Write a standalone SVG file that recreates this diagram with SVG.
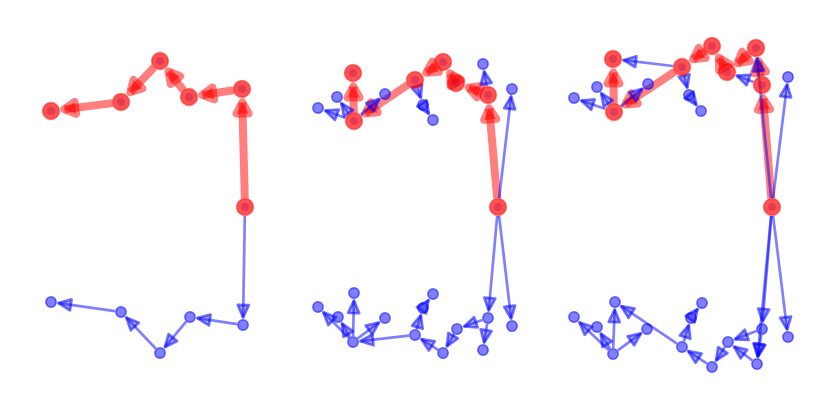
<svg xmlns="http://www.w3.org/2000/svg" width="830" height="415" viewBox="0 0 830 415">
<style>
.re{stroke:#f00;stroke-opacity:.5;stroke-width:8;fill:none;marker-end:url(#rh)}
.be{stroke:#00f;stroke-opacity:.5;stroke-width:2.7;fill:none;marker-end:url(#bh)}
.rhd{fill:#f00;fill-opacity:.5;stroke:#f00;stroke-opacity:.5;stroke-width:8;stroke-linejoin:round}
.bhd{fill:#00f;fill-opacity:.3;stroke:#00f;stroke-opacity:.55;stroke-width:2.7;stroke-linejoin:round}
.bn{fill:#00f;fill-opacity:.5;stroke:#00f;stroke-opacity:.55;stroke-width:1.5}
.bi{fill:#00f;fill-opacity:.3}
.rn{fill:#f00;fill-opacity:.68;stroke:#f00;stroke-opacity:.4;stroke-width:1.5}
</style>
<defs>
<marker id="rh" markerUnits="userSpaceOnUse" orient="auto" markerWidth="1" markerHeight="1" overflow="visible"><path class="rhd" d="M0,0 L-11,-6 L-11,6 Z"/></marker>
<marker id="bh" markerUnits="userSpaceOnUse" orient="auto" markerWidth="1" markerHeight="1" overflow="visible"><path class="bhd" d="M0,0 L-12.5,-5.5 L-12.5,5.5 Z"/></marker>
</defs>
<rect width="830" height="415" fill="#fff"/>
<g id="connectors">
<g id="red-edges">
<line class="re" x1="244.8" y1="198.5" x2="242.3" y2="102.5"/>
<line class="re" x1="233.6" y1="90.3" x2="202.4" y2="95"/>
<line class="re" x1="183.7" y1="90.4" x2="168.5" y2="71.5"/>
<line class="re" x1="154.1" y1="67.2" x2="130.3" y2="92.2"/>
<line class="re" x1="112.6" y1="103.1" x2="64.4" y2="109.3"/>
<line class="re" x1="497.2" y1="198.5" x2="489.2" y2="108.4"/>
<line class="re" x1="480" y1="92" x2="468.6" y2="87.7"/>
<line class="re" x1="451.5" y1="75.8" x2="450.1" y2="73.5"/>
<line class="re" x1="435.9" y1="66.6" x2="426.4" y2="72.7"/>
<line class="re" x1="407.9" y1="84.7" x2="365.2" y2="113.5"/>
<line class="re" x1="353.8" y1="112.5" x2="353.3" y2="86.5"/>
<line class="re" x1="771.3" y1="198.5" x2="763.1" y2="98.5"/>
<line class="re" x1="760.6" y1="76.6" x2="758.2" y2="61.3"/>
<line class="re" x1="749.4" y1="53.4" x2="737.4" y2="63.4"/>
<line class="re" x1="722.8" y1="64.6" x2="718.8" y2="57.7"/>
<line class="re" x1="705" y1="50.9" x2="693.1" y2="59.3"/>
<line class="re" x1="674.9" y1="71.7" x2="625.3" y2="104.5"/>
<line class="re" x1="613.8" y1="103.5" x2="613.3" y2="72.5"/>
</g>
<g id="blue-edges">
<line class="be" x1="244.8" y1="216" x2="243.1" y2="317.5"/>
<line class="be" x1="237.1" y1="324.1" x2="197.4" y2="318.1"/>
<line class="be" x1="186.2" y1="321.6" x2="164.8" y2="347.2"/>
<line class="be" x1="155.9" y1="348.7" x2="126.2" y2="317.4"/>
<line class="be" x1="115.1" y1="311.2" x2="58.4" y2="303.1"/>
<line class="be" x1="345.5" y1="117.9" x2="325.1" y2="110.5"/>
<line class="be" x1="348.8" y1="113.7" x2="341.3" y2="103.1"/>
<line class="be" x1="360.8" y1="115.1" x2="379.3" y2="98.9"/>
<line class="be" x1="417.7" y1="88.6" x2="420.7" y2="97.8"/>
<line class="be" x1="426.3" y1="110" x2="428.8" y2="113.8"/>
<line class="be" x1="486.6" y1="86.1" x2="484.2" y2="71.4"/>
<line class="be" x1="499.1" y1="198.1" x2="511.1" y2="96.4"/>
<line class="be" x1="497.2" y1="216" x2="488.7" y2="310.5"/>
<line class="be" x1="499.1" y1="215.9" x2="511.1" y2="318.6"/>
<line class="be" x1="482.3" y1="320" x2="464.1" y2="326.5"/>
<line class="be" x1="487.1" y1="323.9" x2="484.2" y2="342.6"/>
<line class="be" x1="454" y1="334.2" x2="446.8" y2="346.5"/>
<line class="be" x1="438" y1="349.8" x2="421.3" y2="339.1"/>
<line class="be" x1="416.7" y1="329.3" x2="420.9" y2="315.2"/>
<line class="be" x1="426.5" y1="303.1" x2="428.6" y2="300.1"/>
<line class="be" x1="409" y1="335.7" x2="360.5" y2="341.2"/>
<line class="be" x1="353.1" y1="336" x2="353.9" y2="300.5"/>
<line class="be" x1="357.8" y1="338.4" x2="379" y2="322.5"/>
<line class="be" x1="349.9" y1="336.9" x2="341.9" y2="323.4"/>
<line class="be" x1="348.8" y1="337.8" x2="323.3" y2="312.3"/>
<line class="be" x1="605.5" y1="109" x2="581.1" y2="100.5"/>
<line class="be" x1="608.9" y1="104.5" x2="601.2" y2="93.2"/>
<line class="be" x1="620.9" y1="106.3" x2="642.2" y2="88.8"/>
<line class="be" x1="673.1" y1="66" x2="623.4" y2="60.2"/>
<line class="be" x1="684.2" y1="75.7" x2="687.2" y2="87.7"/>
<line class="be" x1="692.6" y1="99.8" x2="696.5" y2="105"/>
<line class="be" x1="753.6" y1="81.9" x2="736.8" y2="75.7"/>
<line class="be" x1="771.1" y1="198" x2="757.1" y2="58.4"/>
<line class="be" x1="773.1" y1="198.1" x2="787.1" y2="84.4"/>
<line class="be" x1="771.3" y1="216" x2="762.6" y2="321.5"/>
<line class="be" x1="771.1" y1="216" x2="757.7" y2="356.5"/>
<line class="be" x1="773.1" y1="215.9" x2="787.1" y2="329.6"/>
<line class="be" x1="761.2" y1="334.9" x2="758.1" y2="356.6"/>
<line class="be" x1="756.4" y1="331.1" x2="735" y2="339.3"/>
<line class="be" x1="752.2" y1="360.4" x2="734" y2="346.5"/>
<line class="be" x1="724.8" y1="347.1" x2="716" y2="360.7"/>
<line class="be" x1="707" y1="363.7" x2="688.2" y2="351.2"/>
<line class="be" x1="683.8" y1="341.3" x2="688.8" y2="325.2"/>
<line class="be" x1="694.5" y1="313.2" x2="697.6" y2="309"/>
<line class="be" x1="677" y1="343.7" x2="621.2" y2="306.2"/>
<line class="be" x1="613.2" y1="348" x2="614.7" y2="309.5"/>
<line class="be" x1="608.6" y1="349.9" x2="579.4" y2="322.2"/>
<line class="be" x1="610" y1="348.8" x2="600.8" y2="333.5"/>
<line class="be" x1="617.8" y1="350.4" x2="641" y2="333.4"/>
</g>
</g>
<g id="blue-nodes">
<g id="n1-a2"><circle class="bn" cx="243" cy="325" r="5.2"/></g>
<g id="n1-b2"><circle class="bn" cx="190" cy="317" r="5.2"/></g>
<g id="n1-c2"><circle class="bn" cx="160" cy="353" r="5.2"/></g>
<g id="n1-d2"><circle class="bn" cx="121" cy="312" r="5.2"/></g>
<g id="n1-e2"><circle class="bn" cx="51" cy="302" r="5.2"/></g>
<g id="n2-p1"><circle class="bn" cx="318" cy="108" r="5.2"/></g>
<g id="n2-p2"><circle class="bn" cx="337" cy="97" r="5.2"/></g>
<g id="n2-p3"><circle class="bn" cx="385" cy="94" r="5.2"/></g>
<g id="n2-p4"><circle class="bn" cx="423" cy="105" r="5.2"/></g>
<g id="n2-p5"><circle class="bn" cx="433" cy="120" r="5.2"/></g>
<g id="n2-p6"><circle class="bn" cx="483" cy="64" r="5.2"/></g>
<g id="n2-p7"><circle class="bn" cx="512" cy="89" r="5.2"/></g>
<g id="n2-F2"><circle class="bn" cx="488" cy="318" r="5.2"/></g>
<g id="n2-E2"><circle class="bn" cx="457" cy="329" r="5.2"/></g>
<g id="n2-D2"><circle class="bn" cx="443" cy="353" r="5.2"/></g>
<g id="n2-C2"><circle class="bn" cx="415" cy="335" r="5.2"/></g>
<g id="n2-B2"><circle class="bn" cx="353" cy="342" r="5.2"/></g>
<g id="n2-A2"><circle class="bn" cx="354" cy="293" r="5.2"/></g>
<g id="n2-p1b"><circle class="bn" cx="318" cy="307" r="5.2"/></g>
<g id="n2-p2b"><circle class="bn" cx="338" cy="317" r="5.2"/></g>
<g id="n2-p3b"><circle class="bn" cx="385" cy="318" r="5.2"/></g>
<g id="n2-p4b"><circle class="bn" cx="423" cy="308" r="5.2"/></g>
<g id="n2-p5b"><circle class="bn" cx="433" cy="294" r="5.2"/></g>
<g id="n2-p6b"><circle class="bn" cx="483" cy="350" r="5.2"/></g>
<g id="n2-p7b"><circle class="bn" cx="512" cy="326" r="5.2"/></g>
<g id="n3-q1"><circle class="bn" cx="574" cy="98" r="5.2"/></g>
<g id="n3-q2"><circle class="bn" cx="597" cy="87" r="5.2"/></g>
<g id="n3-q3"><circle class="bn" cx="648" cy="84" r="5.2"/></g>
<g id="n3-q4"><circle class="bn" cx="689" cy="95" r="5.2"/></g>
<g id="n3-q5"><circle class="bn" cx="701" cy="111" r="5.2"/></g>
<g id="n3-q6"><circle class="bn" cx="788" cy="77" r="5.2"/></g>
<g id="n3-H2"><circle class="bn" cx="762" cy="329" r="5.2"/></g>
<g id="n3-G2"><circle class="bn" cx="757" cy="364" r="5.2"/></g>
<g id="n3-E2"><circle class="bn" cx="728" cy="342" r="5.2"/></g>
<g id="n3-D2"><circle class="bn" cx="712" cy="367" r="5.2"/></g>
<g id="n3-C2"><circle class="bn" cx="682" cy="347" r="5.2"/></g>
<g id="n3-q4b"><circle class="bn" cx="691" cy="318" r="5.2"/></g>
<g id="n3-q5b"><circle class="bn" cx="702" cy="303" r="5.2"/></g>
<g id="n3-A2"><circle class="bn" cx="615" cy="302" r="5.2"/></g>
<g id="n3-B2"><circle class="bn" cx="613" cy="354" r="5.2"/></g>
<g id="n3-q1b"><circle class="bn" cx="574" cy="317" r="5.2"/></g>
<g id="n3-q2b"><circle class="bn" cx="597" cy="327" r="5.2"/></g>
<g id="n3-q3b"><circle class="bn" cx="647" cy="329" r="5.2"/></g>
<g id="n3-q6b"><circle class="bn" cx="788" cy="337" r="5.2"/></g>
</g>
<g id="red-nodes">
<g id="n1-root"><circle class="bi" cx="245" cy="207" r="4"/><circle class="rn" cx="245" cy="207" r="8.5"/></g>
<g id="n1-a"><circle class="bi" cx="242" cy="89" r="4"/><circle class="rn" cx="242" cy="89" r="8.5"/></g>
<g id="n1-b"><circle class="bi" cx="189" cy="97" r="4"/><circle class="rn" cx="189" cy="97" r="8.5"/></g>
<g id="n1-c"><circle class="bi" cx="160" cy="61" r="4"/><circle class="rn" cx="160" cy="61" r="8.5"/></g>
<g id="n1-d"><circle class="bi" cx="121" cy="102" r="4"/><circle class="rn" cx="121" cy="102" r="8.5"/></g>
<g id="n1-e"><circle class="bi" cx="51" cy="111" r="4"/><circle class="rn" cx="51" cy="111" r="8.5"/></g>
<g id="n2-root"><circle class="bi" cx="498" cy="207" r="4"/><circle class="rn" cx="498" cy="207" r="8.5"/></g>
<g id="n2-F"><circle class="bi" cx="488" cy="95" r="4"/><circle class="rn" cx="488" cy="95" r="8.5"/></g>
<g id="n2-E"><circle class="bi" cx="456" cy="83" r="4"/><circle class="rn" cx="456" cy="83" r="8.5"/></g>
<g id="n2-D"><circle class="bi" cx="443" cy="62" r="4"/><circle class="rn" cx="443" cy="62" r="8.5"/></g>
<g id="n2-C"><circle class="bi" cx="415" cy="80" r="4"/><circle class="rn" cx="415" cy="80" r="8.5"/></g>
<g id="n2-B"><circle class="bi" cx="354" cy="121" r="4"/><circle class="rn" cx="354" cy="121" r="8.5"/></g>
<g id="n2-A"><circle class="bi" cx="353" cy="73" r="4"/><circle class="rn" cx="353" cy="73" r="8.5"/></g>
<g id="n3-root"><circle class="bi" cx="772" cy="207" r="4"/><circle class="rn" cx="772" cy="207" r="8.5"/></g>
<g id="n3-H"><circle class="bi" cx="762" cy="85" r="4"/><circle class="rn" cx="762" cy="85" r="8.5"/></g>
<g id="n3-G"><circle class="bi" cx="756" cy="48" r="4"/><circle class="rn" cx="756" cy="48" r="8.5"/></g>
<g id="n3-E"><circle class="bi" cx="727" cy="72" r="4"/><circle class="rn" cx="727" cy="72" r="8.5"/></g>
<g id="n3-D"><circle class="bi" cx="712" cy="46" r="4"/><circle class="rn" cx="712" cy="46" r="8.5"/></g>
<g id="n3-C"><circle class="bi" cx="682" cy="67" r="4"/><circle class="rn" cx="682" cy="67" r="8.5"/></g>
<g id="n3-B"><circle class="bi" cx="614" cy="112" r="4"/><circle class="rn" cx="614" cy="112" r="8.5"/></g>
<g id="n3-A"><circle class="bi" cx="613" cy="59" r="4"/><circle class="rn" cx="613" cy="59" r="8.5"/></g>
</g>
</svg>
